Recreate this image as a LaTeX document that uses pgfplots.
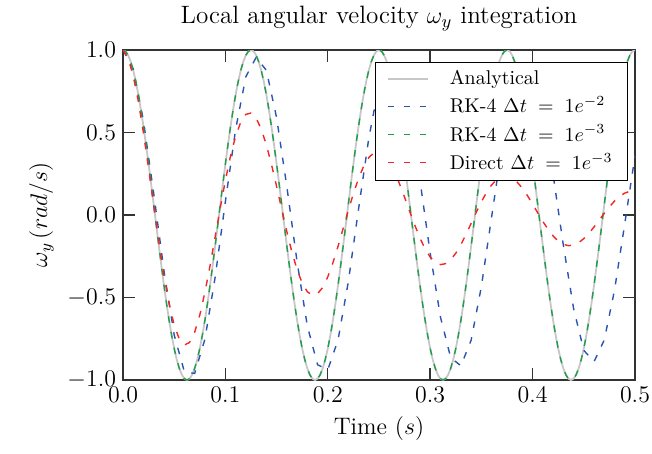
\documentclass[border=0pt]{standalone}
\usepackage{pgfplots}
\usepackage{pgfplotstable}
\pgfplotsset{compat=1.18}

\definecolor{cana}{gray}{0.78}
\definecolor{cblue}{rgb}{0.17,0.33,0.70}
\definecolor{cgreen}{rgb}{0.12,0.62,0.29}
\definecolor{cred}{rgb}{0.95,0.15,0.15}
\definecolor{axcol}{gray}{0.2}

\pgfplotstableread[row sep=\\]{
t w\\
0 1\\ 0.0025 0.99211\\ 0.005 0.96858\\ 0.0075 0.92978\\ 0.01 0.87631\\ 0.0125 0.80902\\ 0.015 0.72897\\ 0.0175 0.63742\\ 0.02 0.53583\\ 0.0225 0.42578\\
0.025 0.30902\\ 0.0275 0.18738\\ 0.03 0.06279\\ 0.0325 -0.06279\\ 0.035 -0.18738\\ 0.0375 -0.30902\\ 0.04 -0.42578\\ 0.0425 -0.53583\\ 0.045 -0.63742\\ 0.0475 -0.72897\\
0.05 -0.80902\\ 0.0525 -0.87631\\ 0.055 -0.92978\\ 0.0575 -0.96858\\ 0.06 -0.99211\\ 0.0625 -1\\ 0.065 -0.99211\\ 0.0675 -0.96858\\ 0.07 -0.92978\\ 0.0725 -0.87631\\
0.075 -0.80902\\ 0.0775 -0.72897\\ 0.08 -0.63742\\ 0.0825 -0.53583\\ 0.085 -0.42578\\ 0.0875 -0.30902\\ 0.09 -0.18738\\ 0.0925 -0.06279\\ 0.095 0.06279\\ 0.0975 0.18738\\
0.1 0.30902\\ 0.1025 0.42578\\ 0.105 0.53583\\ 0.1075 0.63742\\ 0.11 0.72897\\ 0.1125 0.80902\\ 0.115 0.87631\\ 0.1175 0.92978\\ 0.12 0.96858\\ 0.1225 0.99211\\
0.125 1\\ 0.1275 0.99211\\ 0.13 0.96858\\ 0.1325 0.92978\\ 0.135 0.87631\\ 0.1375 0.80902\\ 0.14 0.72897\\ 0.1425 0.63742\\ 0.145 0.53583\\ 0.1475 0.42578\\
0.15 0.30902\\ 0.1525 0.18738\\ 0.155 0.06279\\ 0.1575 -0.06279\\ 0.16 -0.18738\\ 0.1625 -0.30902\\ 0.165 -0.42578\\ 0.1675 -0.53583\\ 0.17 -0.63742\\ 0.1725 -0.72897\\
0.175 -0.80902\\ 0.1775 -0.87631\\ 0.18 -0.92978\\ 0.1825 -0.96858\\ 0.185 -0.99211\\ 0.1875 -1\\ 0.19 -0.99211\\ 0.1925 -0.96858\\ 0.195 -0.92978\\ 0.1975 -0.87631\\
0.2 -0.80902\\ 0.2025 -0.72897\\ 0.205 -0.63742\\ 0.2075 -0.53583\\ 0.21 -0.42578\\ 0.2125 -0.30902\\ 0.215 -0.18738\\ 0.2175 -0.06279\\ 0.22 0.06279\\ 0.2225 0.18738\\
0.225 0.30902\\ 0.2275 0.42578\\ 0.23 0.53583\\ 0.2325 0.63742\\ 0.235 0.72897\\ 0.2375 0.80902\\ 0.24 0.87631\\ 0.2425 0.92978\\ 0.245 0.96858\\ 0.2475 0.99211\\
0.25 1\\ 0.2525 0.99211\\ 0.255 0.96858\\ 0.2575 0.92978\\ 0.26 0.87631\\ 0.2625 0.80902\\ 0.265 0.72897\\ 0.2675 0.63742\\ 0.27 0.53583\\ 0.2725 0.42578\\
0.275 0.30902\\ 0.2775 0.18738\\ 0.28 0.06279\\ 0.2825 -0.06279\\ 0.285 -0.18738\\ 0.2875 -0.30902\\ 0.29 -0.42578\\ 0.2925 -0.53583\\ 0.295 -0.63742\\ 0.2975 -0.72897\\
0.3 -0.80902\\ 0.3025 -0.87631\\ 0.305 -0.92978\\ 0.3075 -0.96858\\ 0.31 -0.99211\\ 0.3125 -1\\ 0.315 -0.99211\\ 0.3175 -0.96858\\ 0.32 -0.92978\\ 0.3225 -0.87631\\
0.325 -0.80902\\ 0.3275 -0.72897\\ 0.33 -0.63742\\ 0.3325 -0.53583\\ 0.335 -0.42578\\ 0.3375 -0.30902\\ 0.34 -0.18738\\ 0.3425 -0.06279\\ 0.345 0.06279\\ 0.3475 0.18738\\
0.35 0.30902\\ 0.3525 0.42578\\ 0.355 0.53583\\ 0.3575 0.63742\\ 0.36 0.72897\\ 0.3625 0.80902\\ 0.365 0.87631\\ 0.3675 0.92978\\ 0.37 0.96858\\ 0.3725 0.99211\\
0.375 1\\ 0.3775 0.99211\\ 0.38 0.96858\\ 0.3825 0.92978\\ 0.385 0.87631\\ 0.3875 0.80902\\ 0.39 0.72897\\ 0.3925 0.63742\\ 0.395 0.53583\\ 0.3975 0.42578\\
0.4 0.30902\\ 0.4025 0.18738\\ 0.405 0.06279\\ 0.4075 -0.06279\\ 0.41 -0.18738\\ 0.4125 -0.30902\\ 0.415 -0.42578\\ 0.4175 -0.53583\\ 0.42 -0.63742\\ 0.4225 -0.72897\\
0.425 -0.80902\\ 0.4275 -0.87631\\ 0.43 -0.92978\\ 0.4325 -0.96858\\ 0.435 -0.99211\\ 0.4375 -1\\ 0.44 -0.99211\\ 0.4425 -0.96858\\ 0.445 -0.92978\\ 0.4475 -0.87631\\
0.45 -0.80902\\ 0.4525 -0.72897\\ 0.455 -0.63742\\ 0.4575 -0.53583\\ 0.46 -0.42578\\ 0.4625 -0.30902\\ 0.465 -0.18738\\ 0.4675 -0.06279\\ 0.47 0.06279\\ 0.4725 0.18738\\
0.475 0.30902\\ 0.4775 0.42578\\ 0.48 0.53583\\ 0.4825 0.63742\\ 0.485 0.72897\\ 0.4875 0.80902\\ 0.49 0.87631\\ 0.4925 0.92978\\ 0.495 0.96858\\ 0.4975 0.99211\\
0.5 1\\
}\ana

\pgfplotstableread[row sep=\\]{
t w\\
0 1\\ 0.01 0.8850\\ 0.02 0.5711\\ 0.03 0.1305\\ 0.04 -0.3374\\ 0.05 -0.7271\\ 0.06 -0.9510\\ 0.07 -0.9599\\ 0.08 -0.7528\\ 0.09 -0.3768\\
0.1 0.0817\\ 0.11 0.5197\\ 0.12 0.8385\\ 0.13 0.9550\\ 0.14 0.8771\\ 0.15 0.5902\\ 0.16 0.1719\\ 0.17 -0.2830\\ 0.18 -0.6718\\ 0.19 -0.9076\\
0.2 -0.9378\\ 0.21 -0.7568\\ 0.22 -0.4062\\ 0.23 0.0340\\ 0.24 0.4644\\ 0.25 0.7882\\ 0.26 0.9328\\ 0.27 0.8668\\ 0.28 0.6061\\ 0.29 0.2101\\
0.3 -0.2312\\ 0.31 -0.6181\\ 0.32 -0.8640\\ 0.33 -0.9142\\ 0.34 -0.7584\\ 0.35 -0.4325\\ 0.36 -0.0110\\ 0.37 0.4110\\ 0.38 0.7383\\ 0.39 0.8977\\
0.4 0.8543\\ 0.41 0.6186\\ 0.42 0.2452\\ 0.43 -0.1818\\ 0.44 -0.5659\\ 0.45 -0.8203\\ 0.46 -0.8891\\ 0.47 -0.7573\\ 0.48 -0.4556\\ 0.49 -0.0530\\
0.5 0.3595\\
}\rkbig

\pgfplotstableread[row sep=\\]{
t w\\
0 1\\ 0.005 0.9501\\ 0.01 0.8432\\ 0.015 0.6881\\ 0.02 0.4961\\ 0.025 0.2807\\ 0.03 0.0559\\ 0.035 -0.1638\\ 0.04 -0.3650\\ 0.045 -0.5360\\
0.05 -0.6674\\ 0.055 -0.7524\\ 0.06 -0.7875\\ 0.065 -0.7725\\ 0.07 -0.7101\\ 0.075 -0.6061\\ 0.08 -0.4685\\ 0.085 -0.3070\\ 0.09 -0.1325\\ 0.095 0.0436\\
0.1 0.2103\\ 0.105 0.3577\\ 0.11 0.4773\\ 0.115 0.5628\\ 0.12 0.6102\\ 0.125 0.6180\\ 0.13 0.5872\\ 0.135 0.5211\\ 0.14 0.4252\\ 0.145 0.3066\\
0.15 0.1735\\ 0.155 0.0346\\ 0.16 -0.1012\\ 0.165 -0.2256\\ 0.17 -0.3313\\ 0.175 -0.4124\\ 0.18 -0.4650\\ 0.185 -0.4867\\ 0.19 -0.4774\\ 0.195 -0.4389\\
0.2 -0.3746\\ 0.205 -0.2895\\ 0.21 -0.1897\\ 0.215 -0.0819\\ 0.22 0.0269\\ 0.225 0.1300\\ 0.23 0.2210\\ 0.235 0.2950\\ 0.24 0.3478\\ 0.245 0.3771\\
0.25 0.3819\\ 0.255 0.3629\\ 0.26 0.3221\\ 0.265 0.2628\\ 0.27 0.1895\\ 0.275 0.1072\\ 0.28 0.0214\\ 0.285 -0.0625\\ 0.29 -0.1394\\ 0.295 -0.2047\\
0.3 -0.2549\\ 0.305 -0.2874\\ 0.31 -0.3008\\ 0.315 -0.2950\\ 0.32 -0.2712\\ 0.325 -0.2315\\ 0.33 -0.1789\\ 0.335 -0.1172\\ 0.34 -0.0506\\ 0.345 0.0166\\
0.35 0.0803\\ 0.355 0.1366\\ 0.36 0.1823\\ 0.365 0.2150\\ 0.37 0.2331\\ 0.375 0.2360\\ 0.38 0.2243\\ 0.385 0.1990\\ 0.39 0.1624\\ 0.395 0.1171\\
0.4 0.0662\\ 0.405 0.0132\\ 0.41 -0.0387\\ 0.415 -0.0862\\ 0.42 -0.1265\\ 0.425 -0.1575\\ 0.43 -0.1776\\ 0.435 -0.1859\\ 0.44 -0.1823\\ 0.445 -0.1676\\
0.45 -0.1431\\ 0.455 -0.1106\\ 0.46 -0.0725\\ 0.465 -0.0313\\ 0.47 0.0103\\ 0.475 0.0496\\ 0.48 0.0844\\ 0.485 0.1127\\ 0.49 0.1328\\ 0.495 0.1440\\
0.5 0.1459\\
}\direct

\begin{document}
\begin{tikzpicture}
\useasboundingbox (-61.5bp,-37bp) rectangle (264.5bp,190bp);
\begin{axis}[
  at={(0,0)}, anchor=south west,
  scale only axis,
  width=256bp, height=165bp,
  xmin=0, xmax=0.5, ymin=-1, ymax=1,
  xtick={0,0.1,0.2,0.3,0.4,0.5},
  ytick={-1,-0.5,0,0.5,1},
  xticklabel style={/pgf/number format/.cd,fixed,fixed zerofill,precision=1},
  yticklabel style={/pgf/number format/.cd,fixed,fixed zerofill,precision=1},
  tick label style={font=\large},
  label style={font=\large},
  title style={font=\fontsize{12.6}{15}\selectfont},
  title={Local angular velocity $\omega_y$ integration},
  xlabel={Time $(s)$},
  ylabel={$\omega_y\,(rad/s)$},
  axis line style={axcol, line width=0.7bp},
  every tick/.style={axcol, line width=0.7bp},
  major tick length=6bp,
  tick align=inside,
  tick pos=both,
  legend style={at={(rel axis cs:0.9863,0.9636)}, anchor=north east,
    draw=black, line width=0.5bp, fill=white, font=\normalsize,
    inner xsep=5.5bp, inner ysep=2bp, row sep=0.5bp, column sep=8.5bp},
  legend cell align=left,
  legend image code/.code={\draw[#1] (0bp,0bp) -- (20bp,0bp);},
  clip=true,
]
\addplot[cana, line width=0.9bp] table[x=t,y=w]{\ana};
\addlegendentry{Analytical}
\addplot[cblue, line width=0.7bp, dash pattern=on 3.3bp off 4.7bp] table[x=t,y=w]{\rkbig};
\addlegendentry{RK-4 $\Delta t \;=\; 1e^{-2}$}
\addplot[cgreen, line width=0.7bp, dash pattern=on 3.3bp off 4.7bp] table[x=t,y=w]{\ana};
\addlegendentry{RK-4 $\Delta t \;=\; 1e^{-3}$}
\addplot[cred, line width=0.7bp, dash pattern=on 3.3bp off 4.7bp] table[x=t,y=w]{\direct};
\addlegendentry{Direct $\Delta t \;=\; 1e^{-3}$}
\end{axis}
\end{tikzpicture}
\end{document}
